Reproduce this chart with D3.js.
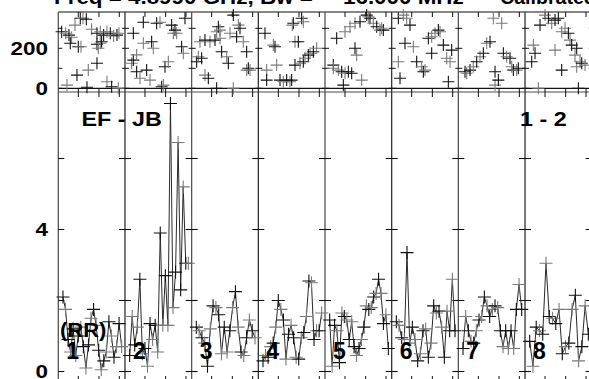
<!DOCTYPE html>
<html><head><meta charset="utf-8">
<script src="https://cdn.jsdelivr.net/npm/d3@7"></script>
<style>html,body{margin:0;padding:0;background:#fff;overflow:hidden}</style>
</head><body>
<svg id="c" width="589" height="379"></svg>
<script>
// ---------------- data ----------------
const ifLabels = ["1","2","3","4","5","6","7","8"];
const baselineLabel = "EF - JB";
const sourceLabel = "1 - 2";
const stokesLabel = "(RR)";
const titleParts = ["Freq =", "4.8990 GHz, Bw =", "16.000 MHz", "Calibrated"];
const phaseTickLabels = [200, 0];
const ampTickLabels = [4, 0];
const phaseTicks = [0, 100, 200, 300];
const ampTicks = [0, 2, 4, 6];
const timeTicks = [0.3, 0.61, 0.915];

// amplitude per IF (equally spaced time samples)
const amp1 = [2.1, 1.75, 0.9, 0.55, 1.2, 0.45, 1.0, 1.25, 0.7, 0.1, 0.75, 1.5, 1.75, 1.3, 0.6, 0.05, 0.3, 0.55, 1.4, 1.0, 0.4, 0.7, 1.35, 0.7];
const amp2 = [0.45, 1.55, 0.75, 1.25, 2.6, 0.5, 0.65, 0.15, 1.35, 0.9, 1.3, 0.55, 3.9, 1.3, 2.7, 1.3, 7.55, 1.8, 2.8, 6.45, 2.3, 5.2, 3.05, 3.05];
const amp3 = [1.25, 1.15, 0.95, 0.8, 0.15, 1.2, 1.85, 1.8, 1.6, 0.5, 1.25, 0.55, 1.15, 1.8, 2.25, 1.25, 0.55, 0.45, 0.95, 1.45, 1.15, 0.95];
const amp4 = [0.3, 0.45, 0.4, 0.7, 0.8, 1.25, 2.0, 1.75, 1.45, 0.35, 1.05, 1.3, 0.95, 0.4, 0.35, 0.95, 1.1, 1.55, 2.55, 2.5, 0.9, 1.15, 1.15, 1.65];
const amp5 = [1.45, 0.15, 1.3, 1.15, 0.25, 1.65, 1.55, 1.45, 0.9, 1.4, 0.7, 0.45, 0.65, 0.9, 1.25, 1.85, 1.75, 1.8, 2.1, 2.2, 2.6, 2.2, 1.35, 1.6, 0.65];
const amp6 = [1.4, 1.3, 0.95, 0.9, 3.35, 0.8, 1.25, 0.9, 0.3, 0.5, 1.15, 1.2, 0.4, 0.8, 1.85, 1.65, 1.7, 1.25, 0.4, 1.7, 1.15, 2.6, 1.15];
const amp7 = [0.65, 1.55, 1.15, 0.85, 0.8, 1.15, 1.45, 1.55, 2.1, 1.85, 1.55, 1.75, 1.85, 1.8, 1.15, 0.7, 1.15, 0.65, 1.15, 0.65, 1.75, 2.45, 1.75];
const amp8 = [0.85, 0.15, 1.25, 1.15, 1.05, 3.05, 1.55, 1.5, 1.35, 1.75, 0.5, 0.7, 0.8, 1.75, 2.15, 0.3, 0.7, 1.85, 1.05];
const ampSeries = [amp1, amp2, amp3, amp4, amp5, amp6, amp7, amp8];

// phase per IF: [time fraction within IF panel, phase deg]
const ph1 = [[.05,283],[.11,275],[.16,266],[.20,255],[.18,225],[.25,316],[.30,208],[.34,208],[.33,350],[.37,350],[.42,345],[.50,295],[.58,275],[.63,283],[.68,266],[.73,283],[.78,275],[.83,262],[.88,266],[.91,275],[.58,220],[.63,225],[.65,233],[.60,200],[.58,125],[.45,91],[.28,66],[.13,16],[.43,5],[.73,33],[.80,8],[.90,0]];
const ph2 = [[.125,275],[.10,125],[.125,141],[.175,167],[.175,83],[.225,50],[.275,330],[.275,225],[.325,91],[.375,41],[.40,233],[.425,200],[.475,325],[.525,330],[.55,8],[.575,16],[.60,108],[.65,133],[.70,316],[.725,275],[.75,291],[.775,275],[.85,208],[.875,175],[.90,350]];
const ph3 = [[.075,133],[.10,158],[.15,150],[.125,233],[.20,241],[.20,66],[.25,50],[.275,233],[.35,241],[.375,283],[.40,308],[.425,291],[.375,0],[.425,250],[.45,183],[.525,158],[.55,125],[.575,275],[.625,366],[.625,0],[.675,258],[.70,316],[.725,300],[.775,233],[.825,183],[.825,91],[.85,100],[.875,91]];
const ph4 = [[.10,275],[.125,91],[.125,41],[.225,216],[.25,208],[.275,116],[.325,41],[.375,33],[.425,41],[.475,33],[.525,325],[.55,233],[.55,116],[.51,316],[.65,350],[.675,333],[.60,233],[.625,125],[.675,133],[.70,150],[.75,166],[.775,175],[.825,183],[.875,200],[.50,41]];
const ph5 = [[.125,116],[.125,100],[.175,250],[.20,91],[.25,83],[.30,75],[.275,16],[.30,283],[.35,83],[.375,308],[.40,75],[.45,325],[.45,200],[.475,166],[.525,333],[.55,41],[.625,366],[.65,358],[.675,350],[.725,325],[.775,308],[.825,291],[.875,291],[.85,300]];
const ph6 = [[.10,350],[.10,133],[.125,50],[.175,366],[.20,225],[.225,350],[.275,316],[.325,208],[.375,133],[.45,108],[.475,83],[.50,91],[.55,250],[.60,258],[.60,175],[.65,275],[.70,291],[.725,283],[.775,216],[.825,150],[.85,33],[.875,133],[.90,191]];
const ph7 = [[.10,83],[.125,75],[.175,91],[.225,108],[.275,133],[.325,158],[.375,175],[.425,225],[.475,233],[.525,350],[.55,83],[.55,16],[.60,41],[.65,325],[.675,175],[.725,158],[.775,150],[.80,108],[.825,91],[.875,91],[.90,100]];
const ph8 = [[.10,133],[.125,216],[.15,175],[.20,0],[.225,316],[.30,366],[.35,350],[.40,325],[.45,341],[.45,191],[.50,350],[.55,283],[.55,91],[.60,300],[.65,275],[.675,241],[.70,216],[.75,166],[.775,200],[.775,108],[.80,0],[.825,133],[.85,125],[.90,116]];
const phaseSeries = [ph1, ph2, ph3, ph4, ph5, ph6, ph7, ph8];

// ---------------- layout / scales ----------------
const svg = d3.select("#c");
const FONT = "'Liberation Sans', Arial, Helvetica, sans-serif";
const nIF = ifLabels.length;
const xIF = d3.scaleLinear().domain([0, nIF]).range([58.3, 591.7]);
const yPh = d3.scaleLinear().domain([0, 200]).range([88.3, 48.3]);
const yAmp = d3.scaleLinear().domain([0, 4]).range([371.5, 229.5]);
const phTop = 12, ampTop = 92, ampBot = 381;
const right = xIF(nIF);
const ink = "#111", grey = "#7a7a7a";

function label(txt, x, y, size, anchor, sx) {
  return svg.append("text")
    .attr("transform", `translate(${x},${y}) scale(${sx},1)`)
    .attr("text-anchor", anchor)
    .attr("font-family", FONT).attr("font-weight", "bold")
    .attr("font-size", size).attr("fill", "#000").text(txt);
}
function cross(g, x, y, color, h) {
  g.append("path").attr("d", `M${x - h},${y}H${x + h}M${x},${y - h}V${y + h}`)
    .attr("stroke", color).attr("stroke-width", 1.1).attr("fill", "none");
}

// frames
const frame = svg.append("g").attr("stroke", ink).attr("fill", "none");
frame.append("line").attr("x1", xIF(0)).attr("x2", right).attr("y1", phTop).attr("y2", phTop).attr("stroke-width", 1.2);
frame.append("line").attr("x1", xIF(0)).attr("x2", right).attr("y1", yPh(0)).attr("y2", yPh(0)).attr("stroke-width", 1.2);
frame.append("line").attr("x1", xIF(0)).attr("x2", right).attr("y1", ampTop).attr("y2", ampTop).attr("stroke", "#888").attr("stroke-width", 1.6);
frame.append("line").attr("x1", xIF(0)).attr("x2", right).attr("y1", ampBot).attr("y2", ampBot).attr("stroke-width", 1.2);

for (let i = 0; i <= nIF; i++) {
  const x = xIF(i);
  frame.append("line").attr("x1", x).attr("x2", x).attr("y1", phTop).attr("y2", ampBot)
    .attr("stroke", i % 2 ? "#333" : "#555").attr("stroke-width", 1.3);
  ampTicks.forEach(v => {
    const y = yAmp(v);
    const l = (i === 0) ? 0 : 6, r = (i === nIF) ? 0 : 6;
    frame.append("line").attr("x1", x - l).attr("x2", x + r).attr("y1", y).attr("y2", y).attr("stroke-width", 1.1);
  });
  phaseTicks.forEach(v => {
    const y = yPh(v);
    const l = (i === 0) ? 0 : 3, r = (i === nIF) ? 0 : 4;
    frame.append("line").attr("x1", x - l).attr("x2", x + r).attr("y1", y).attr("y2", y).attr("stroke-width", 1);
  });
  if (i < nIF) {
    timeTicks.forEach(t => {
      const tx = xIF(i + t);
      frame.append("line").attr("x1", tx).attr("x2", tx).attr("y1", phTop).attr("y2", phTop + 5).attr("stroke-width", 1);
      frame.append("line").attr("x1", tx).attr("x2", tx).attr("y1", yPh(0)).attr("y2", ampTop + 5).attr("stroke-width", 1);
      frame.append("line").attr("x1", tx).attr("x2", tx).attr("y1", ampBot - 5).attr("y2", ampBot).attr("stroke-width", 1);
    });
  }
}

// data
const dataG = svg.append("g");
ampSeries.forEach((vals, i) => {
  const n = vals.length;
  const pts = vals.map((v, k) => [xIF(i + 0.07 + k * 0.88 / (n - 1)), yAmp(v)]);
  dataG.append("path").attr("d", d3.line()(pts)).attr("fill", "none")
    .attr("stroke", "#2a2a2a").attr("stroke-width", 1);
  pts.forEach((p, k) => cross(dataG, p[0], p[1], k % 2 ? grey : ink, 6.5));
});
phaseSeries.forEach((pts, i) => {
  pts.forEach((d, k) => cross(dataG, xIF(i + d[0]), yPh(d[1]), k % 2 ? grey : ink, 6));
});

// labels
label(String(phaseTickLabels[0]), 48, yPh(phaseTickLabels[0]) + 6.7, 19, "end", 1.18);
label(String(phaseTickLabels[1]), 48, yPh(phaseTickLabels[1]) + 6.7, 19, "end", 1.18);
label(String(ampTickLabels[0]), 48, yAmp(ampTickLabels[0]) + 6.8, 19, "end", 1.18);
label(String(ampTickLabels[1]), 48, yAmp(ampTickLabels[1]) + 6.8, 19, "end", 1.18);
label(baselineLabel, 81.5, 126, 21, "start", 1.11);
label(sourceLabel, 520, 126, 21, "start", 1.11);
label(stokesLabel, 60, 337, 20, "start", 1.1);
ifLabels.forEach((s, i) => label(s, xIF(i) + 8, 358.5, 23, "start", 1.0));
const titleX = [54, 128, 343, 500];
titleParts.forEach((s, i) => label(s, titleX[i], 4, 20, "start", i === 3 ? 0.98 : 1.12));
</script>
</body></html>
